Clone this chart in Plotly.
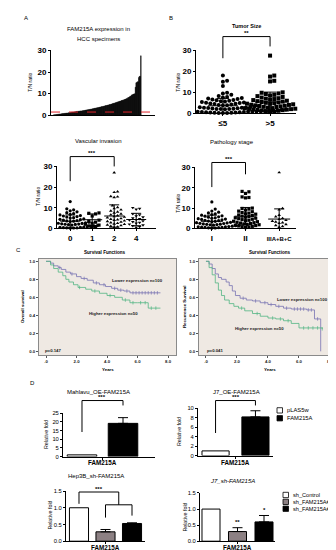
import plotly.graph_objects as go

W, H = 336, 550
FONT = "Liberation Sans, Arial, sans-serif"

# ---------------- data ----------------
tumor_groups = ['≤5', '&gt;5']
tumor_le5 = [18.0, 15.5, 15.0, 13.0, 9.8, 9.5, 8.8, 8.2, 7.8, 7.5, 7.3, 7.0, 6.8, 6.6, 6.4, 6.2,
             6.0, 5.8, 5.6, 5.4, 5.2, 5.0, 4.9, 4.7, 4.5, 4.4, 4.2, 4.0, 3.9, 3.8, 3.6, 3.5, 3.4,
             3.3, 3.2, 3.0, 2.9, 2.8, 2.7, 2.6, 2.5, 2.4, 2.3, 2.2, 2.1, 2.0, 2.0, 1.9, 1.8, 1.8,
             1.7, 1.6, 1.5, 1.5, 1.4, 1.3, 1.2, 1.2, 1.1, 1.0, 1.0, 0.9, 0.9, 0.8, 0.8, 0.7, 0.7,
             0.6, 0.6, 0.5, 0.5, 0.4, 0.4, 0.3, 0.3, 0.2, 0.2, 0.1]
tumor_gt5 = [27.5, 18.0, 17.5, 15.5, 15.2, 10.0, 9.8, 9.5, 9.2, 8.8, 8.5, 8.2, 7.8, 7.5, 7.2, 7.0,
             6.8, 6.5, 6.3, 6.0, 5.8, 5.6, 5.4, 5.2, 5.0, 4.8, 4.6, 4.5, 4.3, 4.1, 4.0, 3.8, 3.6,
             3.5, 3.3, 3.1, 3.0, 2.8, 2.7, 2.5, 2.4, 2.2, 2.1, 2.0, 1.9, 1.8, 1.6, 1.5, 1.4, 1.2,
             1.0, 0.8, 0.6]
tumor_mean = [3.6, 5.4]
tumor_sd = [3.5, 4.7]

hcc_threshold = 1.5

vasc_groups = ['0', '1', '2', '4']
vasc_0 = [13.0, 9.5, 9.0, 8.5, 8.0, 7.6, 7.2, 6.8, 6.5, 6.2, 6.0, 5.7, 5.5, 5.2, 5.0, 4.8, 4.6,
          4.4, 4.2, 4.0, 3.8, 3.6, 3.5, 3.3, 3.1, 3.0, 2.8, 2.7, 2.5, 2.4, 2.2, 2.1, 2.0, 1.9,
          1.8, 1.6, 1.5, 1.4, 1.3, 1.2, 1.1, 1.0, 0.9, 0.8, 0.7, 0.6, 0.5, 0.5, 0.4, 0.3, 0.3,
          0.2, 0.1]
vasc_1 = [7.5, 7.3, 7.0, 6.0, 4.0, 3.5, 3.0, 2.5, 2.0, 1.6, 1.2, 0.8, 0.5]
vasc_2 = [27.0, 17.8, 17.5, 15.5, 15.3, 15.0, 11.0, 10.2, 9.6, 9.0, 8.5, 8.0, 7.5, 7.0, 6.6, 6.2,
          5.8, 5.5, 5.2, 4.8, 4.5, 4.2, 4.0, 3.7, 3.4, 3.1, 2.8, 2.5, 2.2, 2.0, 1.7, 1.4, 1.1,
          0.8, 0.5]
vasc_4 = [10.0, 9.6, 9.2, 7.0, 6.5, 6.0, 5.5, 5.0, 4.6, 4.2, 4.0, 3.6, 3.2, 2.8, 2.5, 2.0, 1.6,
          1.2, 0.8, 0.5]
vasc_mean = [3.5, 4.2, 6.0, 4.3]
vasc_sd = [3.0, 2.8, 5.4, 3.0]

path_groups = ['I', 'II', '<span style="font-size:6px">IIIA+B+C</span>']
path_1 = [13.0, 9.5, 8.5, 8.0, 7.6, 7.2, 6.8, 6.5, 6.2, 6.0, 5.7, 5.5, 5.2, 5.0, 4.8, 4.6, 4.4,
          4.2, 4.0, 3.8, 3.6, 3.5, 3.3, 3.1, 3.0, 2.8, 2.7, 2.5, 2.4, 2.2, 2.1, 2.0, 1.9, 1.8,
          1.6, 1.5, 1.4, 1.3, 1.2, 1.1, 1.0, 0.9, 0.8, 0.7, 0.6, 0.5, 0.5, 0.4, 0.3, 0.2, 0.1]
path_2 = [18.2, 18.0, 17.2, 15.5, 15.2, 15.0, 10.0, 9.8, 9.5, 9.0, 8.5, 8.2, 7.8, 7.5, 7.2, 7.0,
          6.6, 6.3, 6.0, 5.8, 5.5, 5.2, 5.0, 4.8, 4.5, 4.3, 4.0, 3.8, 3.5, 3.3, 3.0, 2.8, 2.6,
          2.4, 2.2, 2.0, 1.8, 1.6, 1.4, 1.2, 1.0, 0.8, 0.6, 0.4]
path_3 = [27.5, 9.8, 9.2, 6.5, 5.8, 5.0, 4.5, 4.0, 3.6, 3.2, 2.8, 2.5, 2.0, 1.5, 1.0, 0.6]
path_mean = [3.5, 6.0, 4.6]
path_sd = [3.0, 4.3, 5.0]

# Kaplan-Meier step curves (years, survival proportion)
os_low_t = [0, 0.3, 0.5, 0.8, 1.0, 1.3, 1.6, 2.0, 2.3, 2.7, 3.1, 3.5, 3.9, 4.3, 4.7, 5.1, 5.5, 7.5]
os_low_s = [1.0, 0.98, 0.95, 0.93, 0.91, 0.88, 0.86, 0.83, 0.81, 0.79, 0.76, 0.74, 0.72, 0.70,
            0.68, 0.67, 0.65, 0.65]
os_low_cens = [0.9, 1.7, 2.5, 3.3, 3.8, 4.5, 4.9, 5.3, 5.7, 5.9, 6.1, 6.3, 6.5, 6.7, 6.9, 7.1, 7.3]
os_high_t = [0, 0.3, 0.5, 0.8, 1.1, 1.3, 1.5, 1.8, 2.1, 2.6, 3.0, 3.5, 4.0, 4.5, 5.0, 5.5, 6.0, 6.7, 7.5]
os_high_s = [1.0, 0.96, 0.92, 0.88, 0.84, 0.80, 0.77, 0.74, 0.71, 0.69, 0.67, 0.645, 0.62, 0.60,
             0.57, 0.54, 0.54, 0.48, 0.48]
os_high_cens = [2.2, 3.2, 4.2, 5.2, 5.7, 6.2, 6.5, 6.9, 7.2]
rfs_low_t = [0, 0.2, 0.4, 0.6, 0.8, 1.0, 1.3, 1.5, 1.7, 1.9, 2.2, 2.6, 3.0, 3.5, 4.0, 4.5, 5.0,
             5.5, 6.5, 7.0, 7.4]
rfs_low_s = [1.0, 0.97, 0.92, 0.86, 0.82, 0.80, 0.77, 0.73, 0.67, 0.62, 0.59, 0.57, 0.56, 0.54,
             0.52, 0.50, 0.48, 0.47, 0.46, 0.36, 0.0]
rfs_low_cens = [2.4, 3.2, 3.8, 4.2, 4.7, 5.2, 5.7, 5.9, 6.1, 6.3, 6.6, 6.8, 7.2]
rfs_high_t = [0, 0.2, 0.4, 0.6, 0.8, 1.0, 1.2, 1.5, 1.8, 2.1, 2.5, 3.0, 3.5, 4.0, 4.5, 5.0, 5.5,
              6.0, 7.5]
rfs_high_s = [1.0, 0.93, 0.85, 0.76, 0.68, 0.62, 0.57, 0.53, 0.50, 0.48, 0.45, 0.42, 0.39, 0.37,
              0.36, 0.34, 0.31, 0.26, 0.25]
rfs_high_cens = [2.3, 3.3, 4.3, 4.8, 5.3, 6.3, 6.6, 6.9, 7.2, 7.5]
os_p = 'p=0.147'
rfs_p = 'p=0.041'

# qPCR relative fold
oe_groups = ['pLAS5w', 'FAM215A']
mahlavu_vals = [1.0, 19.2]
mahlavu_err = [0.0, 3.3]
j7oe_vals = [1.0, 8.2]
j7oe_err = [0.0, 1.3]
sh_groups = ['sh_Control', 'sh_FAM215A#1', 'sh_FAM215A#2']
hep3b_vals = [1.0, 0.28, 0.53]
hep3b_err = [0.0, 0.07, 0.02]
j7sh_vals = [1.0, 0.30, 0.60]
j7sh_err = [0.0, 0.12, 0.20]
gene_label = 'FAM215A'

# ---------------- helpers ----------------
def X(px):
    return px / W

def Y(py):
    return 1 - py / H

fig = go.Figure()
layout = dict(width=W, height=H, margin=dict(l=0, r=0, t=0, b=0), paper_bgcolor='white',
              plot_bgcolor='rgba(0,0,0,0)', showlegend=False, barmode='overlay',
              font=dict(family=FONT, color='black'))
ann = []
shp = []


def text(px, py, s, size=6, bold=False, color='black', xanchor='center', yanchor='middle', angle=0):
    ann.append(dict(x=X(px), y=Y(py), xref='paper', yref='paper',
                    text=f"<b>{s}</b>" if bold else s, showarrow=False,
                    font=dict(size=size, color=color, family=FONT),
                    xanchor=xanchor, yanchor=yanchor, textangle=angle))


def axes(i, x0, x1, ytop, ybot, xr, yr, xkw=None, ykw=None):
    sfx = '' if i == 1 else str(i)
    base = dict(showgrid=False, zeroline=False, showline=True, linecolor='black', linewidth=1,
                ticks='outside', tickcolor='black', tickwidth=1, ticklen=2, fixedrange=True,
                tickfont=dict(family=FONT, size=6, color='black'))
    xa = dict(base, domain=[X(x0), X(x1)], range=xr, anchor='y' + sfx)
    ya = dict(base, domain=[Y(ybot), Y(ytop)], range=yr, anchor='x' + sfx)
    xa.update(xkw or {})
    ya.update(ykw or {})
    layout['xaxis' + sfx] = xa
    layout['yaxis' + sfx] = ya
    return dict(x='x' + sfx, y='y' + sfx, x0=x0, x1=x1, ytop=ytop, ybot=ybot, xr=xr, yr=yr)


def px_x(ax, v):
    a, b = ax['xr']
    return ax['x0'] + (v - a) / (b - a) * (ax['x1'] - ax['x0'])


def px_y(ax, v):
    a, b = ax['yr']
    return ax['ybot'] - (v - a) / (b - a) * (ax['ybot'] - ax['ytop'])


def polyline(pts, color='black', width=1, dash=None):
    path = 'M ' + ' L '.join(f"{X(p[0]):.5f} {Y(p[1]):.5f}" for p in pts)
    line = dict(color=color, width=width)
    if dash:
        line['dash'] = dash
    shp.append(dict(type='path', path=path, xref='paper', yref='paper', line=line))


def rect(x0, y0, x1, y1, fill, line='black', lw=0.8, layer='above'):
    shp.append(dict(type='rect', x0=X(x0), x1=X(x1), y0=Y(y1), y1=Y(y0), xref='paper',
                    yref='paper', fillcolor=fill, line=dict(color=line, width=lw), layer=layer))


def swarm(vals, ppu_y, d):
    """beeswarm offsets (px) so that dots of diameter d do not overlap"""
    order = sorted(range(len(vals)), key=lambda k: vals[k])
    placed = []
    res = [0.0] * len(vals)
    cands = [0.0]
    for j in range(1, 60):
        cands += [j * d * 0.5, -j * d * 0.5]
    for k in order:
        y = vals[k] * ppu_y
        for c in cands:
            ok = True
            for (px, py) in placed:
                if abs(py - y) < d and (px - c) ** 2 + (py - y) ** 2 < (d * 0.98) ** 2:
                    ok = False
                    break
            if ok:
                placed.append((c, y))
                res[k] = c
                break
    return res


def dotplot(ax, groups, means, sds, symbols, size, mean_hw, cap_hw):
    ppx = (ax['x1'] - ax['x0']) / (ax['xr'][1] - ax['xr'][0])
    ppy = (ax['ybot'] - ax['ytop']) / (ax['yr'][1] - ax['yr'][0])
    for gi, vals in enumerate(groups):
        offs = swarm(vals, ppy, size + 0.2)
        fig.add_trace(go.Scatter(x=[gi + o / ppx for o in offs], y=vals, mode='markers',
                                 marker=dict(symbol=symbols[gi], size=size, color='black',
                                             line=dict(width=0)),
                                 cliponaxis=False, xaxis=ax['x'], yaxis=ax['y'], hoverinfo='skip'))
        m, s = means[gi], sds[gi]
        xm = px_x(ax, gi)
        polyline([(xm - mean_hw, px_y(ax, m)), (xm + mean_hw, px_y(ax, m))])
        polyline([(xm, px_y(ax, max(m - s, 0))), (xm, px_y(ax, m + s))])
        polyline([(xm - cap_hw, px_y(ax, m + s)), (xm + cap_hw, px_y(ax, m + s))])
        if m - s > 0:
            polyline([(xm - cap_hw, px_y(ax, m - s)), (xm + cap_hw, px_y(ax, m - s))])


def bold_ticks(vals, size):
    return dict(tickvals=vals, ticktext=[f"<b>{v}</b>" for v in vals],
                tickfont=dict(family=FONT, size=size, color='black'))

# ---------------- A: waterfall ----------------
hcc_sorted = sorted(tumor_le5 + tumor_gt5)
n = len(hcc_sorted)
axA = axes(1, 43, 147, 39, 105, [-3.5, n + 20], [0, 30],
           xkw=dict(showticklabels=False, ticks=''),
           ykw=bold_ticks([0, 10, 20, 30], 8))
fig.add_trace(go.Bar(x=list(range(n)), y=hcc_sorted, width=1, marker=dict(color='black',
                     line=dict(color='black', width=0.4)), xaxis=axA['x'], yaxis=axA['y'],
                     hoverinfo='skip'))
polyline([(43, px_y(axA, hcc_threshold)), (147, px_y(axA, hcc_threshold))], color='#e0242a',
         width=1, dash='dash')
text(18, 6, 'A', 6)
text(90, 17, 'FAM215A expression in', 6)
text(90, 27, 'HCC specimens', 6)
text(22, 72, 'T/N ratio', 5, angle=-90)

# ---------------- B: tumor size ----------------
axB = axes(2, 188, 288, 39, 103, [-0.57, 1.55], [0, 30],
           xkw=dict(tickvals=[0, 1], ticktext=[f"<b>{g}</b>" for g in tumor_groups],
                    tickfont=dict(family=FONT, size=8, color='black')),
           ykw=bold_ticks([0, 10, 20, 30], 8))
dotplot(axB, [tumor_le5, tumor_gt5], tumor_mean, tumor_sd, ['circle', 'square'], 4.0, 15, 6)
xl, xr_ = px_x(axB, 0), px_x(axB, 1)
polyline([(xl, 47), (xl, 25), (xr_, 25), (xr_, 35)])
text((xl + xr_) / 2, 21, '<b>**</b>', 6)
text(163, 6, 'B', 6)
text(238, 14, 'Tumor Size', 5.5, bold=True)
text(170, 72, 'T/N ratio', 5, angle=-90)

# ---------------- vascular invasion ----------------
axV = axes(3, 49, 148, 157, 220, [-0.6, 3.9], [0, 30],
           xkw=dict(tickvals=[0, 1, 2, 3], ticktext=[f"<b>{g}</b>" for g in vasc_groups],
                    tickfont=dict(family=FONT, size=8, color='black')),
           ykw=bold_ticks([0, 10, 20, 30], 8))
dotplot(axV, [vasc_0, vasc_1, vasc_2, vasc_4], vasc_mean, vasc_sd,
        ['circle', 'square', 'triangle-up', 'triangle-down'], 3.2, 10, 5)
xl, xr_ = px_x(axV, 0), px_x(axV, 2)
polyline([(xl, 172), (xl, 147), (xr_, 147), (xr_, 157)])
text((xl + xr_) / 2, 143.5, '<b>***</b>', 6)
text(90, 131, 'Vascular invasion', 6)
text(30, 188, 'T/N ratio', 5, angle=-90)

# ---------------- pathology stage ----------------
axP = axes(4, 187, 288, 158, 220, [-0.5, 2.5], [0, 30],
           xkw=dict(tickvals=[0, 1, 2], ticktext=[f"<b>{g}</b>" for g in path_groups],
                    tickfont=dict(family=FONT, size=8, color='black')),
           ykw=bold_ticks([0, 10, 20, 30], 8))
dotplot(axP, [path_1, path_2, path_3], path_mean, path_sd,
        ['circle', 'square', 'triangle-up'], 3.2, 11, 5)
xl, xr_ = px_x(axP, 0), px_x(axP, 1)
polyline([(xl, 178), (xl, 153), (xr_, 153), (xr_, 165)])
text((xl + xr_) / 2, 149.5, '<b>***</b>', 6)
text(224, 132, 'Pathology stage', 6)
text(170, 195, 'T/N ratio', 5, angle=-90)

# ---------------- C: Kaplan-Meier ----------------
PURPLE = '#7772b2'
GREEN = '#52b583'
BEIGE = '#efe9e3'


def step_at(t, s, c):
    v = s[0]
    for ti, si in zip(t, s):
        if ti <= c:
            v = si
    return v


def km_axes(i, x0, x1, xr):
    ax = axes(i, x0, x1, 251, 349, xr, [-0.044, 1.027],
              xkw=dict(tickvals=[0, 2, 4, 6, 8], ticktext=['<b>.0</b>', '<b>2.0</b>', '<b>4.0</b>',
                                                           '<b>6.0</b>', '<b>8.0</b>'],
                       tickfont=dict(family=FONT, size=4.3, color='#222'), mirror=True,
                       linecolor='#8a8a8a', linewidth=0.8, tickcolor='#555'),
              ykw=dict(tickvals=[0, 0.2, 0.4, 0.6, 0.8, 1.0],
                       ticktext=['<b>0.0</b>', '<b>0.2</b>', '<b>0.4</b>', '<b>0.6</b>', '<b>0.8</b>',
                                 '<b>1.0</b>'],
                       tickfont=dict(family=FONT, size=4.3, color='#222'), mirror=True,
                       linecolor='#8a8a8a', linewidth=0.8, tickcolor='#555'))
    rect(x0, 251, x1, 349, BEIGE, line='rgba(0,0,0,0)', lw=0, layer='below')
    return ax


def km_curve(ax, t, s, cens, color):
    fig.add_trace(go.Scatter(x=t, y=s, mode='lines', line=dict(shape='hv', color=color, width=0.8),
                             xaxis=ax['x'], yaxis=ax['y'], hoverinfo='skip'))
    fig.add_trace(go.Scatter(x=cens, y=[step_at(t, s, c) for c in cens], mode='markers',
                             marker=dict(symbol='line-ns-open', size=2.5, color=color,
                                         line=dict(color=color, width=0.7)),
                             xaxis=ax['x'], yaxis=ax['y'], hoverinfo='skip'))


axK1 = km_axes(5, 31, 168, [-0.46, 8.52])
km_curve(axK1, os_low_t, os_low_s, os_low_cens, PURPLE)
km_curve(axK1, os_high_t, os_high_s, os_high_cens, GREEN)
axK2 = km_axes(6, 191, 333, [-0.45, 8.71])
km_curve(axK2, rfs_low_t, rfs_low_s, rfs_low_cens, PURPLE)
km_curve(axK2, rfs_high_t, rfs_high_s, rfs_high_cens, GREEN)

text(10, 242, 'C', 6)
text(97, 245, 'Survival Functions', 4.6, bold=True)
text(262, 245, 'Survival Functions', 4.6, bold=True)
text(14, 300, 'Overall survival', 4.4, bold=True, angle=-90)
text(176, 300, 'Recurrence Survival', 4.4, bold=True, angle=-90)
text(100, 363, 'Years', 4.4, bold=True)
text(262, 363, 'Years', 4.4, bold=True)
text(129, 273, 'Lower expression n=100', 4.3, bold=True, color='#222')
text(105, 307, 'Higher expression n=50', 4.3, bold=True, color='#222')
text(35, 344, os_p, 4.3, bold=True, color='#222', xanchor='left')
text(294, 292, 'Lower expression n=100', 4.3, bold=True, color='#222')
text(251, 322, 'Higher expression n=50', 4.3, bold=True, color='#222')
text(197, 344, rfs_p, 4.3, bold=True, color='#222', xanchor='left')

# ---------------- D: qPCR bars ----------------
GRAY = '#8c8083'
SH_COLORS = ['white', GRAY, 'black']
OE_COLORS = ['white', 'black']


def bars(ax, vals, errs, colors, width):
    for i, (v, e, c) in enumerate(zip(vals, errs, colors)):
        fig.add_trace(go.Bar(x=[i], y=[v], width=width,
                             marker=dict(color=c, line=dict(color='black', width=1)),
                             error_y=dict(type='data', symmetric=False, array=[e], arrayminus=[0],
                                          color='black', thickness=1, width=5, visible=e > 0),
                             xaxis=ax['x'], yaxis=ax['y'], hoverinfo='skip'))


def gene_axis_label(ax, xv):
    text(px_x(ax, xv), ax['ybot'] + 6.5, f"<b>{gene_label}</b>", 6.3)


text(24, 377, 'D', 6)

axM = axes(7, 55, 147, 408, 452, [-0.463, 1.78], [0, 25],
           xkw=dict(tickvals=[0.5], ticktext=[''], ticklen=2),
           ykw=dict(tickvals=[0, 5, 10, 15, 20, 25], tickfont=dict(family=FONT, size=5.8)))
bars(axM, mahlavu_vals, mahlavu_err, OE_COLORS, 0.72)
gene_axis_label(axM, 0.5)
xl, xr_ = px_x(axM, 0), px_x(axM, 1)
polyline([(xl, 427), (xl, 395), (xr_, 395), (xr_, 400)])
text((xl + xr_) / 2, 391.5, '<b>***</b>', 6)
text(90, 386, 'Mahlavu_OE-FAM215A', 6)
text(38, 430, 'Relative fold', 5.3, angle=-90)

axJ = axes(8, 190, 265, 403, 451, [-0.44, 1.44], [0, 10],
           xkw=dict(tickvals=[0.5], ticktext=[''], ticklen=2),
           ykw=dict(tickvals=[0, 2, 4, 6, 8, 10], tickfont=dict(family=FONT, size=5.8)))
bars(axJ, j7oe_vals, j7oe_err, OE_COLORS, 0.68)
gene_axis_label(axJ, 0.5)
xl, xr_ = px_x(axJ, 0), px_x(axJ, 1)
polyline([(xl, 428), (xl, 395), (xr_, 395), (xr_, 400)])
text((xl + xr_) / 2, 391.5, '<b>***</b>', 6)
text(228, 386, 'J7_OE-FAM215A', 6)
text(171, 427, 'Relative fold', 5.3, angle=-90)
for i, (g, c) in enumerate(zip(oe_groups, OE_COLORS)):
    yy = 405 + i * 8
    rect(269, yy - 2.7, 274.5, yy + 2.7, c, lw=0.8)
    text(277, yy, g, 5.8, xanchor='left')

axH = axes(9, 58, 137, 487, 538, [-0.49, 2.49], [0, 1.5],
           xkw=dict(tickvals=[1], ticktext=[''], ticklen=2),
           ykw=dict(tickvals=[0, 0.5, 1.0, 1.5], ticktext=['0.0', '0.5', '1.0', '1.5'],
                    tickfont=dict(family=FONT, size=5.8)))
bars(axH, hep3b_vals, hep3b_err, SH_COLORS, 0.72)
gene_axis_label(axH, 1)
x0b, x1b, x2b = px_x(axH, 0), px_x(axH, 1), px_x(axH, 2)
xmid = (x1b + x2b) / 2
polyline([(x0b, 500), (x0b, 488), (xmid, 488), (xmid, 501)])
polyline([(x1b, 514), (x1b, 501), (x2b, 501), (x2b, 512)])
text((x0b + xmid) / 2, 484.5, '<b>***</b>', 6)
text(88, 472, 'Hep3B_sh-FAM215A', 6)
text(42, 512, 'Relative fold', 5.3, angle=-90)

axS = axes(10, 192, 267, 489, 538, [-0.415, 2.415], [0, 1.5],
           xkw=dict(tickvals=[1], ticktext=[''], ticklen=2),
           ykw=dict(tickvals=[0, 0.5, 1.0, 1.5], ticktext=['0.0', '0.5', '1.0', '1.5'],
                    tickfont=dict(family=FONT, size=5.8)))
bars(axS, j7sh_vals, j7sh_err, SH_COLORS, 0.68)
gene_axis_label(axS, 1)
text(px_x(axS, 1), px_y(axS, j7sh_vals[1] + j7sh_err[1]) - 6, '<b>**</b>', 6)
text(px_x(axS, 2), px_y(axS, j7sh_vals[2] + j7sh_err[2]) - 6, '<b>*</b>', 6)
text(225, 477, '<i>J7_sh-FAM215A</i>', 6)
text(177, 514, 'Relative fold', 5.3, angle=-90)
for i, (g, c) in enumerate(zip(sh_groups, SH_COLORS)):
    yy = 491 + i * 7
    rect(275, yy - 2.7, 280.5, yy + 2.7, c, lw=0.8)
    text(282.5, yy, g, 5.6, xanchor='left')

layout['annotations'] = ann
layout['shapes'] = shp
fig.update_layout(**layout)
fig.write_html("out.html")
